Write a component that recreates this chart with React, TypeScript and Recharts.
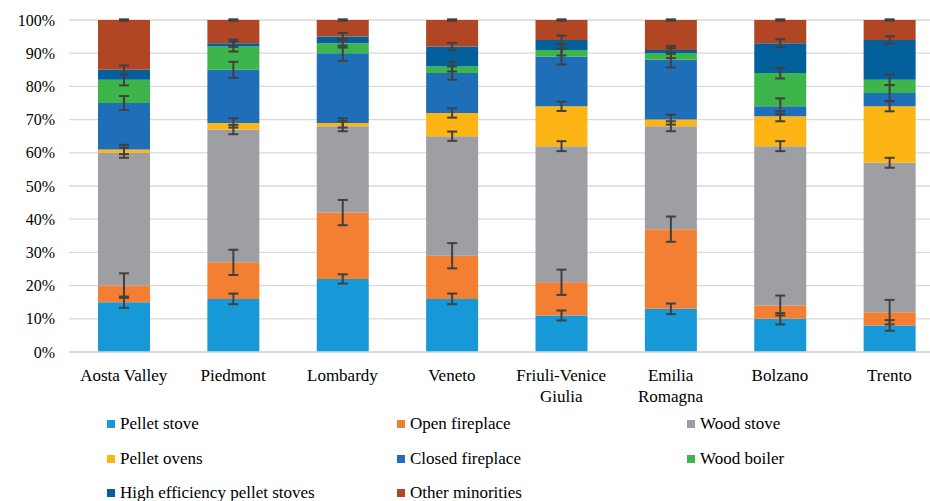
import React from 'react';
import { BarChart, Bar, XAxis, YAxis, CartesianGrid, ErrorBar, Legend } from 'recharts';

const categories = ['Aosta Valley', 'Piedmont', 'Lombardy', 'Veneto', 'Friuli-Venice Giulia', 'Emilia Romagna', 'Bolzano', 'Trento'];

// shares in %, stacked bottom to top
const pelletStove = [15, 16, 22, 16, 11, 13, 10, 8];
const openFireplace = [5, 11, 20, 13, 10, 24, 4, 4];
const woodStove = [40, 40, 26, 36, 41, 31, 48, 45];
const pelletOvens = [1, 2, 1, 7, 12, 2, 9, 17];
const closedFireplace = [14, 16, 21, 12, 15, 18, 3, 4];
const woodBoiler = [7, 7, 3, 2, 2, 2, 10, 4];
const highEffPellet = [3, 1, 2, 6, 3, 1, 9, 12];
const otherMinorities = [15, 7, 5, 8, 6, 9, 7, 6];

// error bar half-widths, in %
const pelletStoveErr = [1.7, 1.6, 1.4, 1.6, 1.5, 1.6, 1.7, 1.6];
const openFireplaceErr = [3.7, 3.8, 3.8, 3.8, 3.8, 3.8, 3.0, 3.7];
const woodStoveErr = [1.5, 1.4, 1.5, 1.4, 1.5, 1.5, 1.5, 1.5];
const pelletOvensErr = [1.4, 1.4, 1.4, 1.4, 1.4, 1.5, 1.5, 1.5];
const closedFireplaceErr = [2.1, 2.4, 2.3, 2.0, 2.4, 2.3, 2.4, 2.4];
const woodBoilerErr = [1.7, 1.5, 1.3, 1.5, 1.7, 1.5, 1.6, 1.6];
const highEffPelletErr = [1.3, 1.1, 1.1, 1.1, 1.3, 1.2, 1.2, 1.1];
const otherMinoritiesErr = [0.2, 0.2, 0.2, 0.2, 0.2, 0.2, 0.2, 0.2];

const yTicks = [0, 10, 20, 30, 40, 50, 60, 70, 80, 90, 100];

const series = [
  { key: 'pelletStove', name: 'Pellet stove', color: '#1799D8', values: pelletStove, err: pelletStoveErr },
  { key: 'openFireplace', name: 'Open fireplace', color: '#F37F33', values: openFireplace, err: openFireplaceErr },
  { key: 'woodStove', name: 'Wood stove', color: '#9D9FA3', values: woodStove, err: woodStoveErr },
  { key: 'pelletOvens', name: 'Pellet ovens', color: '#FDB515', values: pelletOvens, err: pelletOvensErr },
  { key: 'closedFireplace', name: 'Closed fireplace', color: '#1E6FB8', values: closedFireplace, err: closedFireplaceErr },
  { key: 'woodBoiler', name: 'Wood boiler', color: '#3DB54A', values: woodBoiler, err: woodBoilerErr },
  { key: 'highEffPellet', name: 'High efficiency pellet stoves', color: '#04609A', values: highEffPellet, err: highEffPelletErr },
  { key: 'otherMinorities', name: 'Other minorities', color: '#B04623', values: otherMinorities, err: otherMinoritiesErr },
];

const data = categories.map((region, i) => {
  const row: Record<string, string | number> = { region };
  series.forEach((s) => {
    row[s.key] = s.values[i];
    row[`${s.key}Err`] = s.err[i];
  });
  return row;
});

const FONT = '"Liberation Serif", "Times New Roman", serif';

function splitLabel(label: string) {
  if (label.length <= 12 || !label.includes(' ')) return [label];
  const at = label.lastIndexOf(' ');
  return [label.slice(0, at), label.slice(at + 1)];
}

function RegionTick({ x, y, payload }: any) {
  const lines = splitLabel(payload.value);
  return (
    <text x={x} y={y} textAnchor="middle" fontFamily={FONT} fontSize={17} fill="#000">
      {lines.map((l, i) => (
        <tspan key={i} x={x} dy={i === 0 ? 29 : 21}>{l}</tspan>
      ))}
    </text>
  );
}

function LegendGrid() {
  return (
    <div style={{ position: 'relative', width: 930, height: 100, fontFamily: FONT, fontSize: 17, color: '#000' }}>
      {series.map((s, i) => (
        <div
          key={s.key}
          style={{
            position: 'absolute',
            left: 107 + (i % 3) * 290,
            top: 13 + Math.floor(i / 3) * 34.5,
            display: 'flex',
            alignItems: 'center',
            whiteSpace: 'nowrap',
            lineHeight: '20px',
          }}
        >
          <span style={{ display: 'inline-block', width: 8, height: 8, background: s.color, marginRight: 5 }} />
          {s.name}
        </div>
      ))}
    </div>
  );
}

export default function App() {
  return (
    <div style={{ position: 'absolute', left: 0, top: 0, width: 930, height: 501, overflow: 'hidden', background: '#fff' }}>
      <BarChart width={944} height={501} data={data} margin={{ top: 20, right: 0, bottom: 0, left: 0 }} barSize={52}>
        <CartesianGrid vertical={false} stroke="#d9d9d9" strokeWidth={1.3} />
        <XAxis
          dataKey="region"
          height={49}
          tick={<RegionTick />}
          tickLine={false}
          tickSize={0}
          tickMargin={0}
          axisLine={{ stroke: '#d9d9d9', strokeWidth: 1.3 }}
          interval={0}
        />
        <YAxis
          width={69}
          domain={[0, 100]}
          ticks={yTicks}
          allowDataOverflow
          tickFormatter={(v) => `${v}%`}
          tick={{ fill: '#000', fontSize: 16, fontFamily: FONT }}
          axisLine={false}
          tickLine={false}
          tickSize={0}
          tickMargin={14}
        />
        <Legend verticalAlign="bottom" height={100} wrapperStyle={{ left: 0, width: 930 }} content={<LegendGrid />} />
        {series.map((s) => (
          <Bar key={s.key} dataKey={s.key} name={s.name} stackId="a" fill={s.color} isAnimationActive={false}>
            <ErrorBar dataKey={`${s.key}Err`} direction="y" width={5} strokeWidth={2} stroke="#404040" />
          </Bar>
        ))}
      </BarChart>
    </div>
  );
}
